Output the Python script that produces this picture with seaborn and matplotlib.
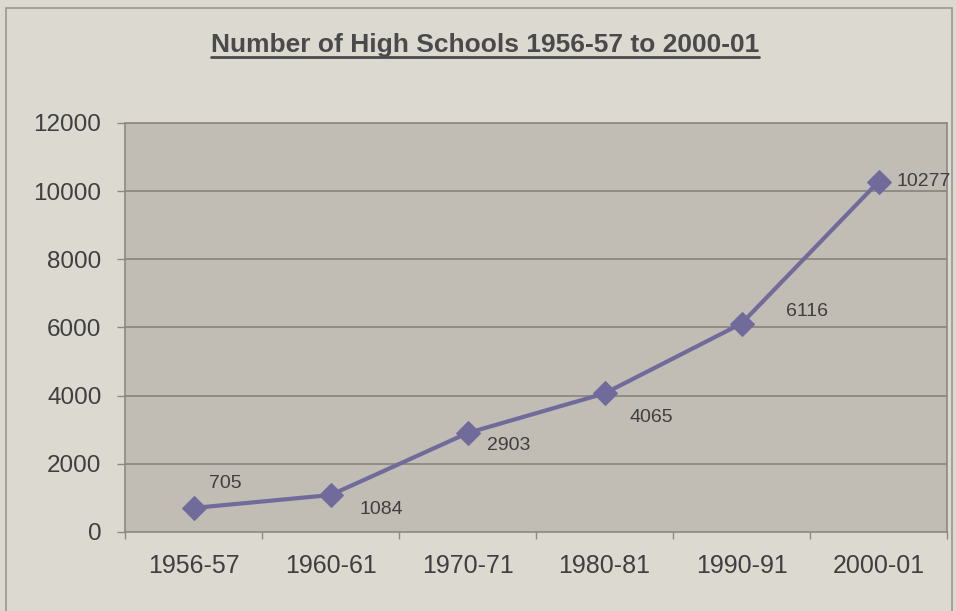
import matplotlib
matplotlib.use('Agg')
import matplotlib.pyplot as plt
import seaborn as sns
import pandas as pd
import numpy as np
from matplotlib.lines import Line2D
from matplotlib.patches import Rectangle

years = ['1956-57', '1960-61', '1970-71', '1980-81', '1990-91', '2000-01']
schools = [705, 1084, 2903, 4065, 6116, 10277]
label_offsets = [(32, 24), (51, -14), (41, -12), (47, -24), (65, 12), (45, 0)]
y_ticks = [0, 2000, 4000, 6000, 8000, 10000, 12000]

outer_bg = '#dcd9d1'
plot_bg = '#c1bdb4'
line_color = '#716b9b'
text_color = '#3f3f3f'
grid_color = '#8c8882'

sns.set_theme(style='white')
plt.rcParams['font.family'] = ['Liberation Sans', 'DejaVu Sans']

df = pd.DataFrame({'year': years, 'schools': schools})

fig = plt.figure(figsize=(9.56, 6.11), dpi=100, facecolor=outer_bg)
ax = fig.add_axes([0.1308, 0.1293, 0.8598, 0.6694])
ax.set_facecolor(plot_bg)

sns.lineplot(data=df, x='year', y='schools', sort=False, ax=ax,
             color=line_color, linewidth=3, marker='D', markersize=12,
             markeredgecolor=line_color, zorder=3)

ax.set_xlim(-0.5, len(years) - 0.5)
ax.set_ylim(0, 12000)
ax.set_yticks(y_ticks)
ax.set_yticklabels([str(v) for v in y_ticks])
ax.set_xticks(range(len(years)))
ax.set_xticklabels(years)
ax.set_xticks(np.arange(-0.5, len(years), 1), minor=True)
ax.set_xlabel('')
ax.set_ylabel('')

for y in y_ticks[1:]:
    ax.axhline(y, color=grid_color, linewidth=1.3, zorder=1)

ax.tick_params(axis='y', which='major', left=True, length=6, width=1,
               color=grid_color, pad=11, labelsize=17.5, labelcolor=text_color)
ax.tick_params(axis='x', which='major', bottom=False, length=0, pad=16,
               labelsize=18, labelcolor=text_color)
ax.tick_params(axis='x', which='minor', bottom=True, length=5, width=1,
               color=grid_color)

for side in ['left', 'bottom', 'right', 'top']:
    ax.spines[side].set_color(grid_color)
    ax.spines[side].set_linewidth(1.2)

for i, (v, off) in enumerate(zip(schools, label_offsets)):
    ax.annotate(str(v), xy=(i, v), xytext=(off[0] * 0.72, off[1] * 0.72),
                textcoords='offset points', ha='center', va='center',
                fontsize=14, color=text_color, annotation_clip=False, zorder=4)

# chart frame
fig.patches.append(Rectangle((0.006, -0.01), 0.99, 0.997, transform=fig.transFigure,
                             fill=False, edgecolor='#9a9893', linewidth=1.2))

title = fig.text(0.507, 0.915, 'Number of High Schools 1956-57 to 2000-01',
                 ha='center', va='baseline', fontsize=19, fontweight='bold',
                 color='#4a4a4a')

# underline the title
fig.canvas.draw()
bb = title.get_window_extent().transformed(fig.transFigure.inverted())
fig.lines.append(Line2D([bb.x0, bb.x1], [0.9075, 0.9075],
                        transform=fig.transFigure, color='#4a4a4a', linewidth=2))

fig.savefig('out.png', dpi=100, facecolor=outer_bg)
